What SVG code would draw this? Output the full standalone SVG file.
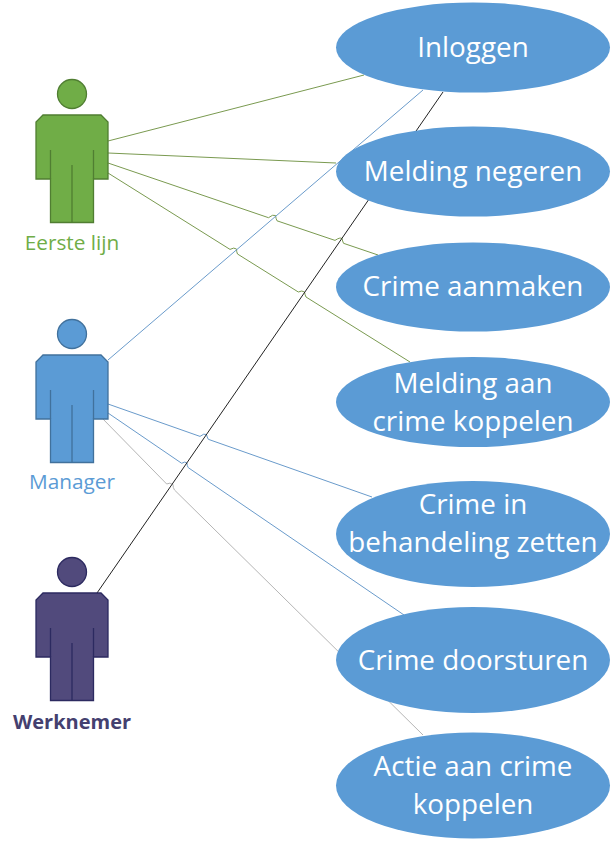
<svg xmlns="http://www.w3.org/2000/svg" width="615" height="841" viewBox="0 0 615 841">
<style>
text{font-family:"Open Sans","Noto Sans",sans-serif}
.uc ellipse{fill:#5B9BD5}
.uc text{fill:#fff;font-size:27.800px;text-anchor:middle}
.lbl{font-size:20.800px;text-anchor:middle}
.c{fill:none;stroke-width:1}
.g{stroke:#7a9a50}.b{stroke:#6a9bcb}.k{stroke:#222}.y{stroke:#b5b5b5}
.p{stroke-width:1.3}
.pg{fill:#70AD47;stroke:#507E32}.pb{fill:#5B9BD5;stroke:#41719C}.pd{fill:#514A7C;stroke:#2C2A60}
</style>
<defs>
<g id="person">
<circle cx="72" cy="94" r="14.5"/>
<path d="M43 115H101L108 122V179H93.5V222.500H50.500V179H36V122Z"/>
<path d="M50.500 150V179M93.500 150V179M72 165V222.500" fill="none"/>
</g>
</defs>
<g id="connectors">
<path class="c g" d="M108 141L364 75"/>
<path class="c g" d="M108 153L336 163"/>
<path class="c g" d="M108 163L268.500 217.700Q273 214 275.500 215.500Q276 219 277 220.800L335 240.400Q340 237 342 238.500Q342.500 241 343.500 243.300L378 255"/>
<path class="c g" d="M108 173L230 249.400Q234 247 236.500 249Q236.500 252 237.500 254L298.300 292Q302 290 304.500 292Q305 295 306 297L410 362"/>
<path class="c b" d="M108 360L423 90"/>
<path class="c b" d="M108 404L200 436.400Q204 433 206.500 434.500Q207 437 208.300 439.300L372 497"/>
<path class="c b" d="M108 413L181.700 463.300Q185 461 187 463Q187 466 188.300 467.700L404 615"/>
<path class="c y" d="M101 417L166.700 484Q170 482 173 484.500Q173 488 174.500 490L423 735"/>
<path class="c k" d="M97 593L443 92"/>
</g>
<g id="actor-eerste-lijn"><use href="#person" class="p pg"/><text class="lbl" x="72" y="250" fill="#70AD47">Eerste lijn</text></g>
<g id="actor-manager"><use href="#person" y="240" class="p pb"/><text class="lbl" x="72" y="489" fill="#5B9BD5">Manager</text></g>
<g id="actor-werknemer"><use href="#person" y="478" class="p pd"/><text class="lbl" x="72" y="729" fill="#44406F" font-weight="700" style="font-size:20px">Werknemer</text></g>
<g id="uc-inloggen" class="uc"><ellipse cx="473" cy="47.500" rx="137" ry="45"/><text x="473" y="57">Inloggen</text></g>
<g id="uc-melding-negeren" class="uc"><ellipse cx="473" cy="171.500" rx="137" ry="45"/><text x="473" y="181">Melding negeren</text></g>
<g id="uc-crime-aanmaken" class="uc"><ellipse cx="473" cy="287" rx="137" ry="44.500"/><text x="473" y="296">Crime aanmaken</text></g>
<g id="uc-melding-koppelen" class="uc"><ellipse cx="473" cy="402" rx="137" ry="45"/><text x="473" y="393">Melding aan</text><text x="473" y="431">crime koppelen</text></g>
<g id="uc-crime-behandeling" class="uc"><ellipse cx="473" cy="534" rx="137" ry="53"/><text x="473" y="513.500">Crime in</text><text x="473" y="552">behandeling zetten</text></g>
<g id="uc-crime-doorsturen" class="uc"><ellipse cx="473" cy="660" rx="137" ry="53"/><text x="473" y="670">Crime doorsturen</text></g>
<g id="uc-actie-koppelen" class="uc"><ellipse cx="473" cy="785.500" rx="137" ry="53"/><text x="473" y="776">Actie aan crime</text><text x="473" y="814">koppelen</text></g>
</svg>
